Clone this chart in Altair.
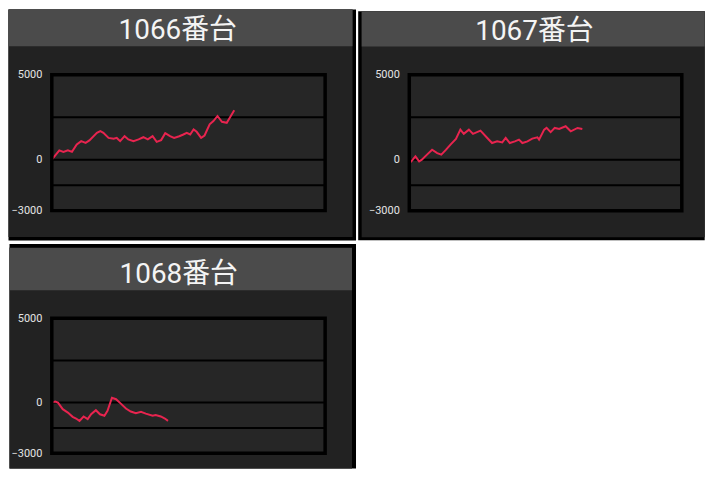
import altair as alt
import pandas as pd

# ---------------- data ----------------
TITLES = ["1066番台", "1067番台", "1068番台"]

games_1066 = [0, 220, 340, 470, 590, 730, 860, 990, 1100, 1320, 1420, 1510, 1660, 1810, 1900,
              2000, 2130, 2240, 2390, 2540, 2680, 2810, 2950, 3070, 3200, 3320, 3460, 3580, 3730,
              3850, 3950, 4050, 4150, 4240, 4370, 4470, 4620, 4730, 4850, 4980, 5120, 5340]
diff_1066 = [0, 550, 460, 550, 460, 890, 1090, 990, 1130, 1580, 1680, 1580, 1280, 1230, 1280,
             1090, 1380, 1190, 1090, 1190, 1320, 1190, 1380, 1050, 1150, 1560, 1380, 1280, 1380,
             1480, 1580, 1480, 1780, 1640, 1280, 1420, 2080, 2270, 2570, 2230, 2170, 2910]

games_1067 = [0, 60, 180, 290, 370, 520, 670, 820, 940, 1080, 1210, 1370, 1500, 1600, 1750,
              1870, 2090, 2290, 2430, 2580, 2730, 2830, 2950, 3100, 3220, 3320, 3470, 3610, 3760,
              3810, 3960, 4030, 4150, 4270, 4400, 4590, 4740, 4940, 5080]
diff_1067 = [0, -100, 200, -100, 0, 300, 590, 390, 300, 590, 890, 1220, 1770, 1520, 1770,
             1520, 1710, 1280, 980, 1080, 1020, 1280, 980, 1080, 1180, 980, 1080, 1240, 1320,
             1180, 1770, 1870, 1620, 1870, 1810, 1970, 1670, 1870, 1810]

games_1068 = [0, 100, 180, 320, 470, 610, 710, 810, 930, 1050, 1150, 1290, 1410, 1540, 1630,
              1760, 1880, 2020, 2170, 2310, 2460, 2610, 2750, 2950, 3040, 3190, 3310, 3400]
diff_1068 = [0, 60, 0, -390, -590, -840, -940, -1080, -820, -980, -690, -450, -690, -780, -490,
             290, 200, -60, -350, -530, -630, -550, -650, -780, -730, -820, -940, -1080]

Y_LABELS = [5000, 0, -3000]
GRID_VALUES = [2500, 0, -1500]
Y_DOMAIN = [-3000, 5000]
X_DOMAIN = [0, 8000]

# ---------------- style ----------------
LINE_COLOR = "#e8244f"
PANEL_BG = "#222222"
PLOT_BG = "#262626"
BAR_BG = "#4b4b4b"
TITLE_FONT = "Roboto, 'Noto Sans CJK JP', sans-serif"


def panel(title, xs, ys, box, borders, bar, plot, base, cx):
    """box / bar / plot are page-pixel layout parameters of the panel frame."""
    L, T, R, Bm = box
    bl, bt, br, bb = borders
    px0, py0, px1, py1 = plot
    w, h = px1 - px0, py1 - py0
    one = alt.Data(values=[{"k": 0}])
    xsc = alt.Scale(domain=X_DOMAIN, nice=False, zero=False)
    ysc = alt.Scale(domain=Y_DOMAIN, nice=False, zero=False)
    yaxis = alt.Axis(values=Y_LABELS, format="d", grid=False, domain=False, ticks=False,
                     labelFontSize=11, labelColor="#e4e4e4", labelFont="Roboto",
                     labelPadding=10, title=None, zindex=1, labelOverlap=False)

    def fx(v):
        return alt.value(v - px0)

    def fy(v):
        return alt.value(v - py0)

    outer = alt.Chart(one).mark_rect(color="black").encode(
        x=fx(L), x2=fx(R), y=fy(T), y2=fy(Bm))
    inner = alt.Chart(one).mark_rect(color=PANEL_BG).encode(
        x=fx(L + bl), x2=fx(R - br), y=fy(T + bt), y2=fy(Bm - bb))
    tbar = alt.Chart(one).mark_rect(color=BAR_BG).encode(
        x=fx(L + bl), x2=fx(R - br), y=fy(bar[0]), y2=fy(bar[1]))
    ttl = alt.Chart(one).mark_text(font=TITLE_FONT, fontSize=28, color="#f4f4f4",
                                   align="center", baseline="alphabetic").encode(
        x=fx(cx), y=fy(base), text=alt.value(title))
    plotbg = alt.Chart(one).mark_rect(color=PLOT_BG).encode(
        x=alt.value(0), x2=alt.value(w), y=alt.value(0), y2=alt.value(h))
    grid = alt.Chart(pd.DataFrame({"v": GRID_VALUES})).mark_rule(
        color="black", strokeWidth=2).encode(
        y=alt.Y("v:Q", scale=ysc, axis=yaxis), x=alt.value(0), x2=alt.value(w))
    line = alt.Chart(pd.DataFrame({"g": xs, "v": ys})).mark_line(
        color=LINE_COLOR, strokeWidth=2).encode(
        x=alt.X("g:Q", scale=xsc, axis=None),
        y=alt.Y("v:Q", scale=ysc, axis=yaxis))
    border = alt.Chart(one).mark_rect(filled=False, color="black", strokeWidth=3.5).encode(
        x=alt.value(0), x2=alt.value(w), y=alt.value(0), y2=alt.value(h))

    return alt.layer(outer, inner, tbar, ttl, plotbg, grid, line, border).properties(
        width=w, height=h)


# the page shows the region x 8..706, y 8..468 of the original screenshot
p1 = panel(TITLES[0], games_1066, diff_1066, box=(8, 8, 357, 240), borders=(0, 0, 3.5, 3.5),
           bar=(8, 45), plot=(51.5, 73.5, 326, 210), base=38, cx=178)
p2 = panel(TITLES[1], games_1067, diff_1067, box=(358, 8, 706, 238), borders=(3.5, 0, 0, 3),
           bar=(8, 43.3), plot=(409.3, 71.7, 683, 208.3), base=37.3, cx=535)
p3 = panel(TITLES[2], games_1068, diff_1068, box=(8, 242.5, 356, 468), borders=(0, 3.5, 4, 0),
           bar=(246.5, 289), plot=(50.5, 317, 325, 452.7), base=281.7, cx=178)

chart = alt.vconcat(
    alt.hconcat(p1, p2, spacing=1),
    p3,
    spacing=2.5,
).properties(
    padding=0,
    background="white",
).configure_view(stroke="transparent")

chart.save("out.html", embed_options={"renderer": "svg", "actions": False})
